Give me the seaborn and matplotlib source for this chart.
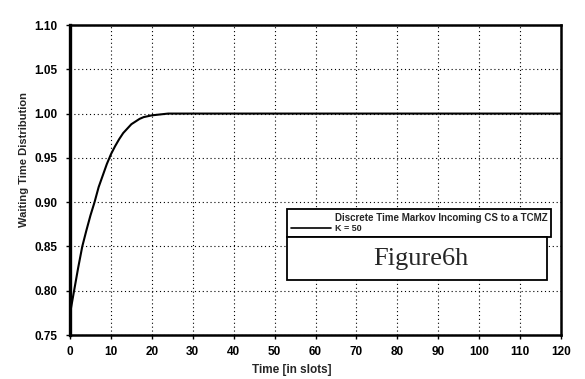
import matplotlib
matplotlib.use("Agg")
import matplotlib.pyplot as plt
from matplotlib.patches import Rectangle
from matplotlib.lines import Line2D
import seaborn as sns
import pandas as pd

# Waiting time distribution, K = 50
time_slots = [0, 1, 2, 3, 4, 5, 6, 7, 8, 9, 10, 11, 12, 13, 14, 15, 16, 17, 18,
              19, 20, 22, 24, 26, 30, 40, 50, 60, 70, 80, 90, 100, 110, 120]
waiting_cdf = [0.774, 0.800, 0.826, 0.850, 0.868, 0.885, 0.900, 0.917, 0.930,
               0.943, 0.954, 0.963, 0.971, 0.978, 0.983, 0.988, 0.991, 0.994,
               0.996, 0.997, 0.998, 0.999, 1.000, 1.000, 1.000, 1.000, 1.000,
               1.000, 1.000, 1.000, 1.000, 1.000, 1.000, 1.000]
x_ticks = [0, 10, 20, 30, 40, 50, 60, 70, 80, 90, 100, 110, 120]
y_ticks = [0.75, 0.80, 0.85, 0.90, 0.95, 1.00, 1.05, 1.10]
legend_title = "Discrete Time Markov Incoming CS to a TCMZ"
series_label = "K = 50"

df = pd.DataFrame({"t": time_slots, "p": waiting_cdf})

sns.set_style("ticks")
plt.rcParams["font.family"] = ["Liberation Sans", "DejaVu Sans"]

W, H = 585, 379
fig = plt.figure(figsize=(W / 100, H / 100), dpi=100)
ax = fig.add_axes([70 / W, 1 - 335 / H, (561 - 70) / W, (335 - 25) / H])

sns.lineplot(data=df, x="t", y="p", ax=ax, color="black", linewidth=1.5)

ax.set_xlim(0, 120)
ax.set_ylim(0.75, 1.10)
ax.set_xticks(x_ticks)
ax.set_yticks(y_ticks)
ax.set_yticklabels([f"{v:.2f}" for v in y_ticks])
ax.tick_params(axis="both", labelsize=8.5, length=3, width=1, color="black",
               labelcolor="black")
ax.tick_params(axis="y", pad=6)
ax.tick_params(axis="x", pad=5)
for lab in ax.get_xticklabels() + ax.get_yticklabels():
    lab.set_fontweight("bold")
ax.grid(True, color="black", linestyle=(0, (1, 2.5)), linewidth=0.8)
for s in ax.spines.values():
    s.set_color("black")
    s.set_linewidth(1.8)
ax.spines["left"].set_linewidth(2.4)

ax.set_xlabel("")
ax.set_ylabel("")
fig.text(24 / W, 1 - 160 / H, "Waiting Time Distribution", fontsize=8,
         fontweight="bold", rotation=90, ha="center", va="center")
fig.text(292 / W, 1 - 370 / H, "Time [in slots]", fontsize=8.5,
         fontweight="bold", ha="center", va="center")

handle = Line2D([0], [0], color="black", linewidth=1.2)
leg = ax.legend([handle], [series_label], title=legend_title,
                loc="lower left",
                bbox_to_anchor=((287 - 70) / 491, (335 - 237) / 310,
                                (551 - 287) / 491, (237 - 202) / 310),
                mode="expand", fancybox=False, framealpha=1, edgecolor="black",
                fontsize=6.5, title_fontsize=7, alignment="right",
                handlelength=4.5, borderpad=0.4, borderaxespad=0,
                handletextpad=0.4, labelspacing=0.2)
leg.get_frame().set_linewidth(1.3)
leg.get_title().set_fontweight("bold")
for t in leg.get_texts():
    t.set_fontweight("bold")

# caption box
fig.add_artist(Rectangle((287 / W, 1 - 280 / H), (547 - 287) / W,
                         (280 - 237) / H, transform=fig.transFigure,
                         facecolor="white", edgecolor="black", linewidth=1.3,
                         zorder=5))
fig.text(421 / W, 1 - 259 / H, "Figure6h", fontsize=19,
         family=["Liberation Serif", "DejaVu Serif"], ha="center", va="center",
         zorder=6)

fig.savefig("out.png", dpi=100, facecolor="white")
